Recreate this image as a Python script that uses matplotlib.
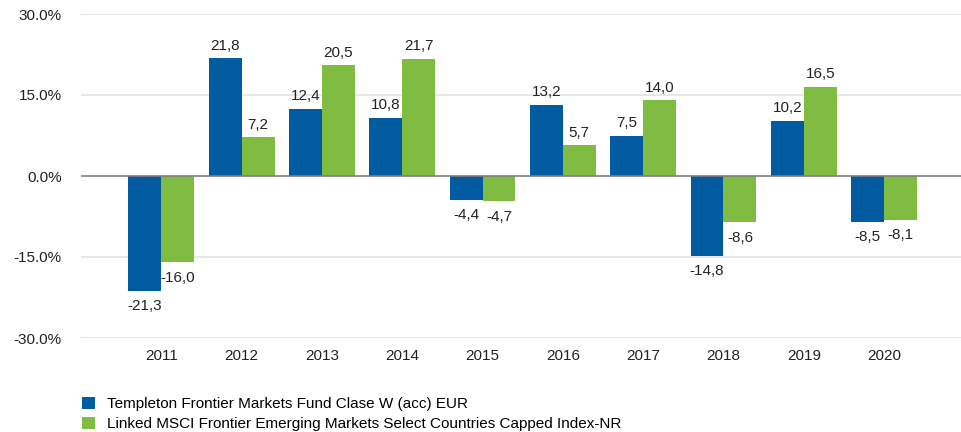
import numpy as np
import matplotlib.pyplot as plt

plt.rcParams['font.family'] = ['Liberation Sans', 'DejaVu Sans']

years = ['2011', '2012', '2013', '2014', '2015', '2016', '2017', '2018', '2019', '2020']
fondo = [-21.3, 21.8, 12.4, 10.8, -4.4, 13.2, 7.5, -14.8, 10.2, -8.5]
indice = [-16.0, 7.2, 20.5, 21.7, -4.7, 5.7, 14.0, -8.6, 16.5, -8.1]
nombres = ['Templeton Frontier Markets Fund Clase W (acc) EUR',
           'Linked MSCI Frontier Emerging Markets Select Countries Capped Index-NR']

azul = '#005BA1'
verde = '#80BC41'
fs = 11

fig = plt.figure(figsize=(9.62, 4.32), dpi=100)
ax = fig.add_axes([81 / 962, 1 - 338 / 432, 1 - 81 / 962, 324 / 432])

x = np.arange(len(years))
w = 0.41
b1 = ax.bar(x - w / 2, fondo, w, color=azul, label=nombres[0])
b2 = ax.bar(x + w / 2, indice, w, color=verde, label=nombres[1])

for barras, vals in [(b1, fondo), (b2, indice)]:
    for bar, v in zip(barras, vals):
        txt = f'{v:.1f}'.replace('.', ',')
        cx = bar.get_x() + bar.get_width() / 2
        if v >= 0:
            ax.annotate(txt, (cx, v), xytext=(0, 4), textcoords='offset points',
                        ha='center', va='bottom', fontsize=fs, color='#222222')
        else:
            ax.annotate(txt, (cx, v), xytext=(0, -6), textcoords='offset points',
                        ha='center', va='top', fontsize=fs, color='#222222')

ax.set_ylim(-30, 30)
ax.set_xlim(-1, 9.97)
ax.set_yticks([-30, -15, 0, 15, 30])
ax.set_yticklabels([f'{t:.1f}%' for t in [-30, -15, 0, 15, 30]])
ax.set_xticks(x)
ax.set_xticklabels(years)
ax.tick_params(axis='both', length=0, labelsize=fs, colors='#222222')
ax.tick_params(axis='y', pad=14)
ax.tick_params(axis='x', pad=8)
for s in ax.spines.values():
    s.set_visible(False)
for t in [-30, -15, 15, 30]:
    ax.axhline(t, color='#E3E3E3', lw=1.2, zorder=0)
ax.axhline(0, color='#7F7F7F', lw=1.2, zorder=3)

fig.legend(handles=[b1, b2], loc='upper left', bbox_to_anchor=(82 / 962, 1 - 397 / 432),
           frameon=False, fontsize=fs, handlelength=0.85, handleheight=0.85,
           handletextpad=0.8, labelspacing=0.35, borderpad=0, borderaxespad=0)

fig.savefig('out.png', dpi=100)
